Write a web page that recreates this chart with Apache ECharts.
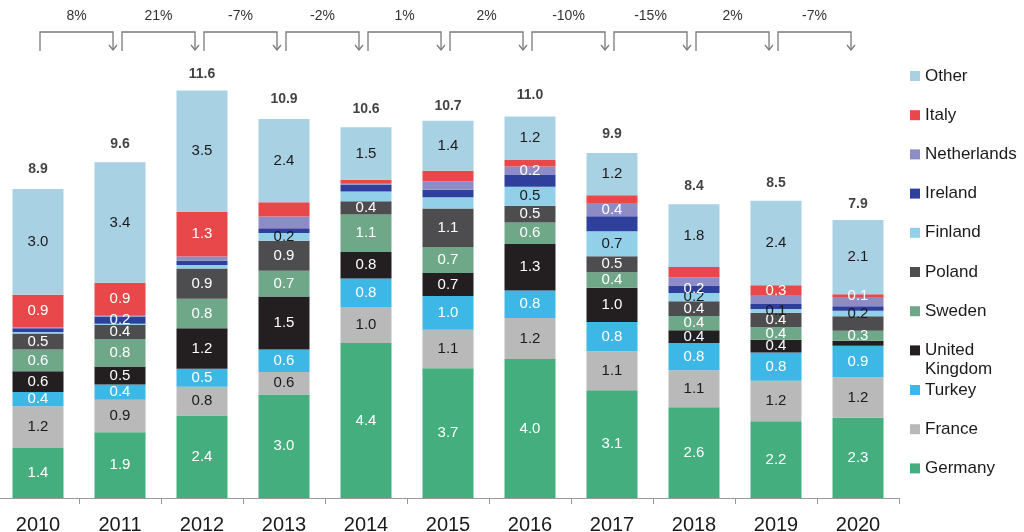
<!DOCTYPE html>
<html>
<head>
<meta charset="utf-8">
<script src="https://cdn.jsdelivr.net/npm/echarts@6/dist/echarts.min.js"></script>
<style>html,body{margin:0;padding:0;background:#fff;overflow:hidden;}#c{position:absolute;left:-3px;top:0;width:1027px;height:532px;}</style>
</head>
<body>
<div id="c"></div>
<script>
const years = ['2010','2011','2012','2013','2014','2015','2016','2017','2018','2019','2020'];
const germany     = [1.43, 1.88, 2.36, 2.96, 4.43, 3.71, 3.97, 3.08, 2.59, 2.19, 2.29];
const france      = [1.19, 0.93, 0.82, 0.64, 1.03, 1.10, 1.17, 1.11, 1.06, 1.16, 1.16];
const turkey      = [0.41, 0.43, 0.51, 0.64, 0.81, 0.96, 0.79, 0.84, 0.78, 0.81, 0.90];
const uk          = [0.59, 0.52, 1.16, 1.52, 0.76, 0.66, 1.33, 0.98, 0.36, 0.36, 0.14];
const sweden      = [0.62, 0.78, 0.84, 0.73, 1.07, 0.74, 0.61, 0.44, 0.41, 0.36, 0.29];
const poland      = [0.46, 0.41, 0.87, 0.86, 0.38, 1.10, 0.48, 0.46, 0.42, 0.41, 0.41];
const finland     = [0.04, 0.03, 0.10, 0.22, 0.28, 0.32, 0.54, 0.71, 0.24, 0.11, 0.16];
const ireland     = [0.11, 0.20, 0.12, 0.14, 0.19, 0.22, 0.34, 0.43, 0.21, 0.14, 0.13];
const netherlands = [0.02, 0.05, 0.12, 0.33, 0.03, 0.24, 0.24, 0.38, 0.24, 0.24, 0.24];
const italy       = [0.94, 0.92, 1.27, 0.41, 0.11, 0.30, 0.19, 0.22, 0.29, 0.30, 0.10];
const other       = [3.02, 3.44, 3.47, 2.38, 1.50, 1.43, 1.24, 1.21, 1.79, 2.41, 2.12];
const totals      = [8.9, 9.6, 11.6, 10.9, 10.6, 10.7, 11.0, 9.9, 8.4, 8.5, 7.9];
const pctChange   = [8, 21, -7, -2, 1, 2, -10, -15, 2, -7];
// segments drawn without a value label in the reference
const unlabeled = [
  'Finland 2010','Finland 2011','Finland 2012','Finland 2014','Finland 2015',
  'Ireland 2010','Ireland 2012','Ireland 2013','Ireland 2014','Ireland 2015','Ireland 2016','Ireland 2017','Ireland 2019','Ireland 2020',
  'Netherlands 2010','Netherlands 2011','Netherlands 2012','Netherlands 2013','Netherlands 2014','Netherlands 2015','Netherlands 2018','Netherlands 2019','Netherlands 2020',
  'Italy 2013','Italy 2014','Italy 2015','Italy 2016','Italy 2017','Italy 2018',
  'Poland 2020','United Kingdom 2020'
];

const seriesDefs = [
  {name:'Germany', data:germany, color:'#45ae7e', label:'#ffffff'},
  {name:'France', data:france, color:'#b9b9b9', label:'#1a1a1a'},
  {name:'Turkey', data:turkey, color:'#3db8e6', label:'#ffffff'},
  {name:'United Kingdom', data:uk, color:'#231f20', label:'#ffffff'},
  {name:'Sweden', data:sweden, color:'#6fa889', label:'#ffffff'},
  {name:'Poland', data:poland, color:'#4d4d4f', label:'#ffffff'},
  {name:'Finland', data:finland, color:'#92d0ea', label:'#1a1a1a'},
  {name:'Ireland', data:ireland, color:'#2f3f9c', label:'#ffffff'},
  {name:'Netherlands', data:netherlands, color:'#8e8cc6', label:'#ffffff'},
  {name:'Italy', data:italy, color:'#e8484a', label:'#ffffff'},
  {name:'Other', data:other, color:'#a9d1e4', label:'#1a1a1a'}
];

const FONT = '"Liberation Sans", Arial, sans-serif';

const series = seriesDefs.map(d => ({
  name: d.name,
  type: 'bar',
  stack: 'total',
  barWidth: 51,
  color: d.color,
  itemStyle: {color: d.color},
  data: d.data.map((v, i) => ({
    value: v,
    label: {show: unlabeled.indexOf(d.name + ' ' + years[i]) < 0}
  })),
  label: {
    show: true,
    position: 'inside',
    color: d.label,
    fontSize: 15,
    fontFamily: FONT,
    formatter: p => p.value.toFixed(1)
  },
  emphasis: {disabled: true},
  silent: true
}));

series.push({
  name: 'Total',
  type: 'scatter',
  data: totals,
  symbolSize: 1,
  itemStyle: {color: 'rgba(0,0,0,0)'},
  label: {
    show: true, position: 'top', distance: 10,
    color: '#111', fontSize: 14, fontWeight: 'bold', fontFamily: FONT,
    formatter: p => p.value.toFixed(1)
  },
  silent: true
});

series.push({
  name: 'Change',
  type: 'custom',
  coordinateSystem: 'cartesian2d',
  clip: false,
  silent: true,
  data: pctChange.map((p, i) => [i, 0, p]),
  encode: {x: 0, y: 1},
  renderItem: function (params, api) {
    const i = api.value(0);
    const p = api.value(2);
    const xa = api.coord([i, 0])[0];
    const xb = api.coord([i + 1, 0])[0];
    const l = xa + 2, r = xb - 7;
    const top = 32, bl = 51, ab = 50;
    const stroke = {stroke: '#7a7a7a', lineWidth: 1.3, fill: null};
    return {
      type: 'group',
      children: [
        {type: 'polyline', shape: {points: [[l, bl], [l, top], [r, top], [r, ab]]}, style: stroke},
        {type: 'polyline', shape: {points: [[r - 4, ab - 5], [r, ab], [r + 4, ab - 5]]}, style: stroke},
        {type: 'text', style: {text: p + '%', x: (l + r) / 2, y: 16, align: 'center', verticalAlign: 'middle',
          fontSize: 14, fontFamily: FONT, fill: '#333'}}
      ]
    };
  }
});

const legendText = {fontSize: 17, fontFamily: FONT, color: '#1a1a1a', lineHeight: 20};

const option = {
  animation: false,
  grid: {left: 0, right: 125, top: 8, bottom: 34, containLabel: false, outerBoundsMode: 'none'},
  xAxis: {
    type: 'category',
    data: years,
    axisLine: {lineStyle: {color: '#999', width: 1}},
    axisTick: {show: true, length: 6, lineStyle: {color: '#999'}},
    axisLabel: {fontSize: 20, fontFamily: FONT, color: '#1a1a1a', margin: 17}
  },
  yAxis: {
    type: 'value', min: 0, max: 14, show: false,
    splitLine: {show: false}
  },
  legend: [
    {
      orient: 'vertical', left: 913, top: 66, padding: 0,
      itemWidth: 10, itemHeight: 10, itemGap: 19.2,
      icon: 'rect',
      textStyle: legendText,
      data: ['Other','Italy','Netherlands','Ireland','Finland','Poland','Sweden','United Kingdom'],
      formatter: n => n === 'United Kingdom' ? 'United' : n,
      selectedMode: false
    },
    {
      orient: 'vertical', left: 913, top: 380, padding: 0,
      itemWidth: 10, itemHeight: 10, itemGap: 19.2,
      icon: 'rect',
      textStyle: legendText,
      data: ['Turkey','France','Germany'],
      selectedMode: false
    }
  ],
  graphic: [
    {type: 'text', left: 928, top: 359, silent: true,
      style: {text: 'Kingdom', fontSize: 17, fontFamily: FONT, fill: '#1a1a1a', lineHeight: 20}}
  ],
  series: series
};

const chart = echarts.init(document.getElementById('c'), null, {renderer: 'canvas'});
chart.setOption(option);
</script>
</body>
</html>
